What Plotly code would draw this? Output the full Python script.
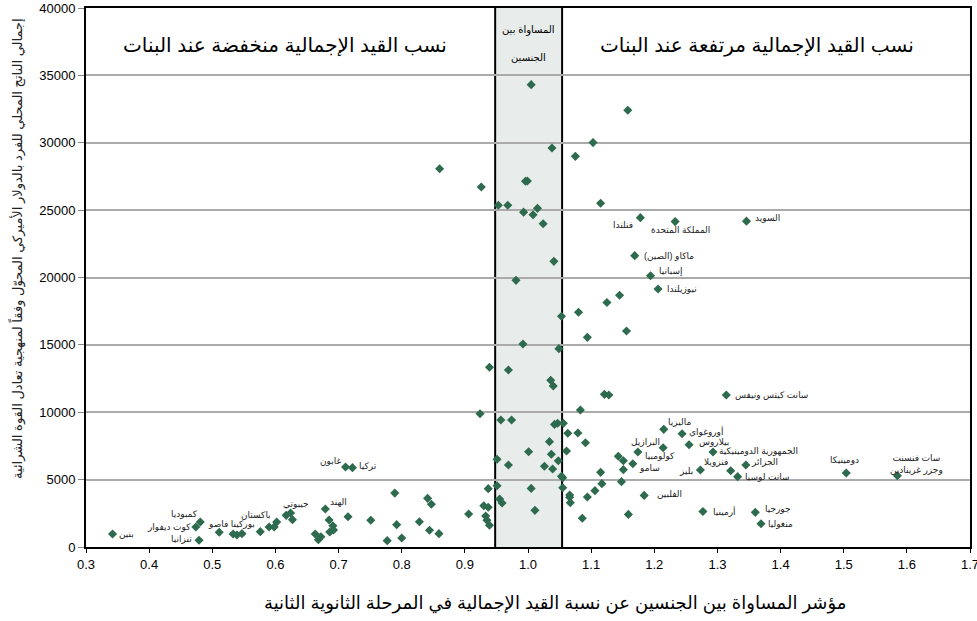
import plotly.graph_objects as go

# ---------------- data ----------------
# unlabeled countries: gender parity index (x) and GDP per capita PPP (y)
other_x = [0.511, 0.533, 0.539, 0.547, 0.590, 0.598, 0.617, 0.627, 0.663, 0.668,
           0.672, 0.685, 0.686, 0.691, 0.692, 0.715, 0.751, 0.777, 0.789, 0.792,
           0.800, 0.828, 0.841, 0.847, 0.844, 0.859, 0.906, 0.924, 0.930, 0.937,
           0.937, 0.933, 0.935, 0.939, 0.951, 0.951, 0.955, 0.959, 0.957, 0.974,
           0.969, 1.001, 1.005, 1.011, 1.026, 1.034, 1.036, 1.040, 1.037, 1.039,
           1.042, 1.047, 1.048, 1.053, 1.055, 1.056, 1.055, 1.061, 1.063, 1.066,
           1.066, 1.067, 1.079, 1.083, 1.086, 1.091, 1.094, 1.106, 1.115, 1.117,
           1.121, 1.128, 1.143, 1.151, 1.151, 1.148, 1.159,
           1.005, 1.158, 1.103, 1.038, 1.075, 0.860, 0.926, 0.996, 0.999, 0.953,
           0.968, 1.115, 1.015, 0.993, 1.008, 1.024, 1.041, 0.981, 1.145, 1.125,
           1.053, 1.080, 1.156, 1.094, 0.992, 1.049, 0.939, 0.969]
other_y = [1090, 965, 890, 990, 1480, 1480, 2350, 2030, 965, 540,
           765, 2000, 1110, 1580, 1260, 2250, 1980, 470, 4000, 1660,
           670, 1870, 3610, 3170, 1240, 990, 2450, 9890, 3060, 2950,
           4330, 2300, 1980, 1610, 4550, 6510, 3560, 3270, 9420, 9420,
           6090, 7070, 4350, 2720, 5990, 7820, 12370, 11950, 6880, 5790,
           9100, 9180, 6400, 5250, 5140, 9180, 4400, 7120, 8440, 3860,
           3690, 3290, 8460, 10170, 2130, 7740, 3710, 4180, 5540, 4700,
           11330, 11280, 6730, 6400, 5740, 4850, 2420,
           34310, 32410, 30010, 29610, 28990, 28070, 26720, 27140, 27160, 25360,
           25360, 25510, 25130, 24850, 24660, 23990, 21200, 19790, 18680, 18140,
           17120, 17420, 16030, 15560, 15060, 14720, 13340, 13130]

# labeled countries
label_names = ["بنين", "تنزانيا", "كوت ديفوار", "كمبوديا", "بوركينا فاصو", "باكستان",
               "جيبوتي", "الهند", "غابون", "تركيا",
               "فنلندا", "المملكة المتحدة", "السويد", "ماكاو (الصين)", "إسبانيا",
               "نيوزيلندا", "سانت كيتس ونيفس", "ماليزيا", "أوروغواي", "بيلاروس",
               "البرازيل", "كولومبيا", "سامو", "بليز", "الجمهورية الدومينيكية",
               "الجزائر", "فنزويلا", "سانت لوسيا", "الفلبين", "أرمينيا",
               "جورجيا", "منغوليا", "دومينيكا", "سات فنسنت<br>وجزر غرينادين"]
label_x = [0.342, 0.479, 0.474, 0.481, 0.576, 0.602, 0.624, 0.679, 0.711, 0.722,
           1.178, 1.233, 1.346, 1.169, 1.194, 1.206, 1.314, 1.215, 1.244, 1.255,
           1.174, 1.214, 1.166, 1.273, 1.293, 1.345, 1.321, 1.332, 1.184, 1.277,
           1.360, 1.369, 1.504, 1.585]
label_y = [965, 500, 1480, 1850, 1140, 1855, 2520, 2820, 5940, 5890,
           24440, 24150, 24180, 21620, 20130, 19150, 11280, 8730, 8410, 7590,
           7050, 7370, 6180, 5710, 7050, 6090, 5660, 5220, 3830, 2640,
           2570, 1730, 5490, 5290]

x_ticks = [0.3, 0.4, 0.5, 0.6, 0.7, 0.8, 0.9, 1.0, 1.1, 1.2, 1.3, 1.4, 1.5, 1.6, 1.7]
y_ticks = [0, 5000, 10000, 15000, 20000, 25000, 30000, 35000, 40000]

parity_band = [0.948, 1.054]

header_low = "نسب القيد الإجمالية منخفضة عند البنات"
header_high = "نسب القيد الإجمالية مرتفعة عند البنات"
band_title = ["المساواة بين", "الجنسين"]
x_title = "مؤشر المساواة بين الجنسين عن نسبة القيد الإجمالية في المرحلة الثانوية الثانية"
y_title = "إجمالي الناتج المحلي للفرد بالدولار الأميركي المحوّل وفقاً لمنهجية تعادل القوة الشرائية"

# ---------------- styles (label placement: xanchor, xshift px, yshift px) ----------------
label_pos = [("left", 4, 0), ("right", -5, 1), ("right", -3, 0), ("right", 0, 8),
             ("right", -3, 8), ("right", -4, 7), ("center", 5, 9), ("left", 3, 7),
             ("right", -2, 6), ("left", 5, 2),
             ("right", -5, -7), ("center", 5, -8), ("left", 7, 3), ("left", 7, 0),
             ("left", 6, 4), ("left", 7, 0), ("left", 7, 0), ("left", 2, 7),
             ("left", 5, 2), ("left", 8, 3), ("center", 8, 10), ("center", -3, -8),
             ("left", 4, -4), ("right", -5, -1), ("left", 4, 1), ("left", 3, 3),
             ("right", -1, 9), ("left", 5, 0), ("left", 11, 1), ("left", 8, 0),
             ("left", 8, 3), ("left", 5, 0), ("center", -2, 13), ("center", 19, 12)]

FONT = "Arial, Liberation Sans, DejaVu Sans, sans-serif"
MARKER = dict(symbol="diamond", size=7, color="#2E6A4E")

fig = go.Figure()
fig.add_trace(go.Scatter(x=other_x, y=other_y, mode="markers", marker=MARKER,
                         showlegend=False, hoverinfo="x+y"))
fig.add_trace(go.Scatter(x=label_x, y=label_y, mode="markers", marker=MARKER,
                         text=label_names, showlegend=False, hoverinfo="text+x+y"))

# parity band
fig.add_shape(type="rect", xref="x", yref="y", x0=parity_band[0], x1=parity_band[1],
              y0=0, y1=40000, fillcolor="#E8ECEA", line=dict(width=0), layer="below")
for xv in parity_band:
    fig.add_shape(type="line", xref="x", yref="y", x0=xv, x1=xv, y0=0, y1=40000,
                  line=dict(color="black", width=2), layer="below")

annotations = []
for name, xv, yv, (anc, dx, dy) in zip(label_names, label_x, label_y, label_pos):
    annotations.append(dict(x=xv, y=yv, xref="x", yref="y", text=name, showarrow=False,
                            xanchor=anc, yanchor="middle", xshift=dx, yshift=dy,
                            font=dict(size=9, color="#222222", family=FONT)))

annotations += [
    dict(x=0.615, y=37250, xref="x", yref="y", text=header_low, showarrow=False,
         font=dict(size=20, color="black", family=FONT)),
    dict(x=1.363, y=37250, xref="x", yref="y", text=header_high, showarrow=False,
         font=dict(size=20, color="black", family=FONT)),
    dict(x=1.0, y=38370, xref="x", yref="y", text=band_title[0], showarrow=False,
         font=dict(size=10, color="black", family=FONT)),
    dict(x=1.0, y=36360, xref="x", yref="y", text=band_title[1], showarrow=False,
         font=dict(size=10, color="black", family=FONT)),
    dict(x=0.531, y=-0.104, xref="paper", yref="paper", text=x_title, showarrow=False,
         yanchor="middle", font=dict(size=18, color="black", family=FONT)),
    dict(x=-0.078, y=0.553, xref="paper", yref="paper", text=y_title, showarrow=False,
         textangle=-90, xanchor="center", yanchor="middle",
         font=dict(size=13, color="#222222", family=FONT)),
]

fig.update_layout(
    width=977, height=621, autosize=False,
    margin=dict(l=86, r=7, t=8, b=74),
    paper_bgcolor="white", plot_bgcolor="white",
    font=dict(family=FONT, color="black"),
    annotations=annotations,
    showlegend=False,
)
fig.update_xaxes(range=[0.3, 1.7], tickvals=x_ticks, tickformat=".1f", automargin=False,
                 ticklabeloverflow="allow",
                 showgrid=False, zeroline=False,
                 showline=True, linecolor="black", linewidth=2, mirror=True,
                 ticks="outside", ticklen=4, tickcolor="black",
                 tickfont=dict(size=13, family=FONT, color="black"))
fig.update_yaxes(range=[0, 40000], tickvals=y_ticks, tickformat="d", automargin=False,
                 ticklabeloverflow="allow",
                 showgrid=True, gridcolor="#ABABAB", gridwidth=1.5, zeroline=False,
                 showline=True, linecolor="black", linewidth=2, mirror=True,
                 ticks="outside", ticklen=6, tickcolor="#888888",
                 tickfont=dict(size=13, family=FONT, color="black"))

# remove the default page margin so the figure sits at the window's corner
fig.write_html("out.html", config={"displayModeBar": False},
               post_script="document.body.style.margin='0';")
